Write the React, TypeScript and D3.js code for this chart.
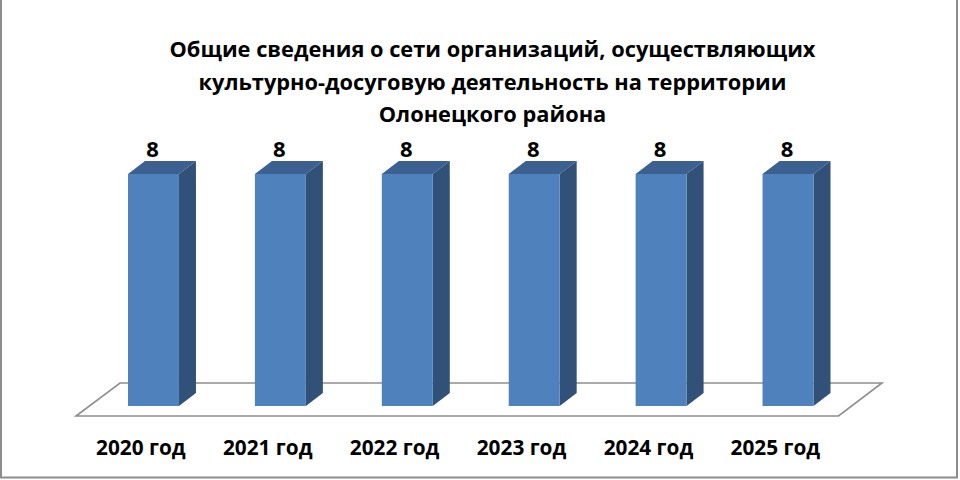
import React from "react";
import * as d3 from "d3";

const categories = ["2020 год", "2021 год", "2022 год", "2023 год", "2024 год", "2025 год"];
const values = [8, 8, 8, 8, 8, 8];
const titleLines = [
  "Общие сведения о сети организаций, осуществляющих",
  "культурно-досуговую деятельность на территории",
  "Олонецкого района",
];
const FONT = "'Open Sans', 'Noto Sans', sans-serif";
const DX = 17;
const DY = -13;

export default function App() {
  const x = d3.scaleBand<string>().domain(categories).range([128, 813.5]).paddingInner(76 / 127).paddingOuter(0);
  const y = d3.scaleLinear().domain([0, 8]).range([406, 174]);
  const bw = x.bandwidth();
  return (
    <svg width={960} height={480} style={{ position: "absolute", left: 0, top: 0, background: "#fff" }} fontFamily={FONT}>
      <path d="M1 0V477.5H957V0" fill="none" stroke="#8c8c8c" strokeWidth={2} />
      <path d="M120 383H882L838.5 416H76Z" fill="#fff" stroke="#8e8e8e" strokeWidth={1.6} />
      {titleLines.map((t, i) => (
        <text key={i} x={492.5} y={57 + i * 32.5} textAnchor="middle" fontSize={21.8} fontWeight={700} fill="#000">{t}</text>
      ))}
      {categories.map((c, i) => {
        const x0 = x(c)!;
        const x1 = x0 + bw;
        const t = y(values[i]);
        const b = y(0);
        return (
          <g key={c}>
            <path d={`M${x0} ${t}L${x0 + DX} ${t + DY}H${x1 + DX}L${x1} ${t}Z`} fill="#3c6191" />
            <path d={`M${x1} ${t}L${x1 + DX} ${t + DY}V${b + DY}L${x1} ${b}Z`} fill="#315179" />
            <rect x={x0} y={t} width={bw} height={b - t} fill="#4f81bd" />
            <text x={x0 + 24.5} y={157} textAnchor="middle" fontSize={22} fontWeight={700} fill="#000">{values[i]}</text>
            <text x={x0 + 12.8} y={454.5} textAnchor="middle" fontSize={20.8} fontWeight={700} fill="#000">{c}</text>
          </g>
        );
      })}
    </svg>
  );
}
